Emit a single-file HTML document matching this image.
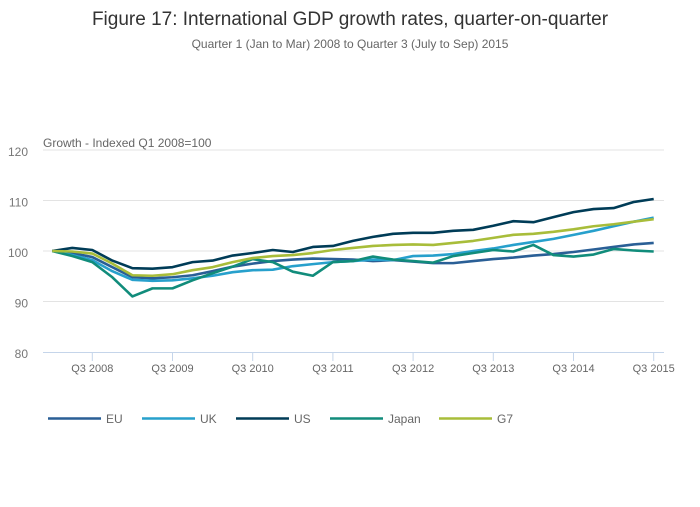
<!DOCTYPE html>
<html><head><meta charset="utf-8"><style>
body{margin:0;background:#fff;font-family:"Liberation Sans",sans-serif}
svg text{font-family:"Liberation Sans",sans-serif}
</style></head><body>
<svg id="chart" width="700" height="502" xmlns="http://www.w3.org/2000/svg">
<text x="350" y="25" text-anchor="middle" font-size="19" fill="#333">Figure 17: International GDP growth rates, quarter-on-quarter</text>
<text x="350" y="48" text-anchor="middle" font-size="12" fill="#666">Quarter 1 (Jan to Mar) 2008 to Quarter 3 (July to Sep) 2015</text>
<text x="43" y="147" font-size="12" fill="#666">Growth - Indexed Q1 2008=100</text>
<g id="grid"></g><g id="xaxis"></g><g id="series"></g><g id="legend"></g>
</svg>
<script>
const yTicks=[80,90,100,110,120];
const xTickLabels=["Q3 2008","Q3 2009","Q3 2010","Q3 2011","Q3 2012","Q3 2013","Q3 2014","Q3 2015"];
const xTickIdx=[2,6,10,14,18,22,26,30];
const seriesNames=["EU","UK","US","Japan","G7"];
const seriesColors=["#2a5f96","#27a0cc","#003c57","#118c7b","#a8bd3a"];
const eu=[100,99.6,98.8,96.8,94.8,94.6,94.8,95.2,96.0,96.9,97.5,98.0,98.3,98.5,98.4,98.3,98.0,98.2,97.9,97.6,97.6,98.0,98.4,98.7,99.1,99.4,99.8,100.3,100.8,101.3,101.6];
const uk=[100,99.2,98.2,96.0,94.3,94.1,94.2,94.6,95.1,95.8,96.2,96.3,97.0,97.4,97.8,98.0,98.3,98.2,99.0,99.1,99.4,100.0,100.5,101.2,101.8,102.4,103.2,104.0,104.9,105.8,106.6];
const us=[100,100.6,100.2,98.1,96.6,96.5,96.8,97.8,98.1,99.1,99.6,100.2,99.8,100.8,101.0,102.0,102.8,103.4,103.6,103.6,104.0,104.2,105.0,105.9,105.7,106.7,107.7,108.3,108.5,109.7,110.3];
const japan=[100,99.0,97.8,94.8,91.0,92.6,92.6,94.2,95.6,96.9,98.4,97.8,95.9,95.1,97.8,98.0,98.9,98.3,98.0,97.7,99.0,99.6,100.2,99.9,101.2,99.2,98.9,99.3,100.4,100.1,99.9];
const g7=[100,99.9,99.5,97.5,95.2,95.1,95.4,96.2,96.8,97.8,98.6,99.0,99.2,99.6,100.2,100.6,101.0,101.2,101.3,101.2,101.6,102.0,102.6,103.2,103.4,103.8,104.3,104.9,105.3,105.8,106.3];
const allSeries=[eu,uk,us,japan,g7];

const NS="http://www.w3.org/2000/svg";
const x=i=>52.2+i*20.05;
const y=v=>352-(v-80)*5.05;
function mk(tag,attrs,parent){const e=document.createElementNS(NS,tag);for(const k in attrs)e.setAttribute(k,attrs[k]);parent.appendChild(e);return e;}
const grid=document.getElementById('grid');
yTicks.forEach(t=>{
  if(t>80){const l=mk('line',{x1:43,x2:664,y1:y(t),y2:y(t),stroke:'#e3e3e3','stroke-width':1},grid);
  
  }
  const tx=mk('text',{x:28,y:y(t)+6,'text-anchor':'end','font-size':12,fill:'#777'},grid);tx.textContent=t;
  
  
});
const xa=document.getElementById('xaxis');
const al=mk('line',{x1:43,x2:664,y1:352.5,y2:352.5,stroke:'#c5d5ea','stroke-width':1},xa);


xTickIdx.forEach((qi,k)=>{
  const tk=mk('line',{x1:x(qi),x2:x(qi),y1:352,y2:361,stroke:'#c5d5ea'},xa);
  
  
  const tx=mk('text',{x:x(qi),y:372,'text-anchor':'middle','font-size':11,fill:'#666'},xa);tx.textContent=xTickLabels[k];
  
  
});
const sg=document.getElementById('series');
allSeries.forEach((s,k)=>{
  const p=mk('polyline',{points:s.map((v,i)=>x(i)+','+y(v)).join(' '),fill:'none',stroke:seriesColors[k],'stroke-width':2.6,'stroke-linejoin':'round'},sg);
  
  
});
const lg=document.getElementById('legend');
const lx=[48,142,236,330,439];
seriesNames.forEach((n,k)=>{
  const g=mk('g',{},lg);
  
  
  mk('line',{x1:lx[k],x2:lx[k]+53,y1:418.5,y2:418.5,stroke:seriesColors[k],'stroke-width':2.6},g);
  const t=mk('text',{x:lx[k]+58,y:423,'font-size':12,fill:'#666'},g);t.textContent=n;
});
</script>
</body></html>
